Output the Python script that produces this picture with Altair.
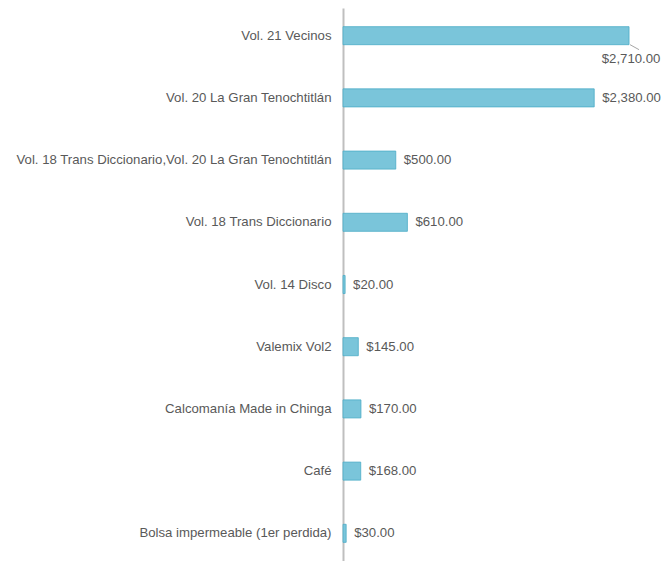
import altair as alt
import pandas as pd

categories = [
    "Vol. 21 Vecinos",
    "Vol. 20 La Gran Tenochtitlán",
    "Vol. 18 Trans Diccionario,Vol. 20 La Gran Tenochtitlán",
    "Vol. 18 Trans Diccionario",
    "Vol. 14 Disco",
    "Valemix Vol2",
    "Calcomanía Made in Chinga",
    "Café",
    "Bolsa impermeable (1er perdida)",
]
amounts = [2710, 2380, 500, 610, 20, 145, 170, 168, 30]
labels = ["$2,710.00", "$2,380.00", "$500.00", "$610.00", "$20.00",
          "$145.00", "$170.00", "$168.00", "$30.00"]
leader = [True, False, False, False, False, False, False, False, False]

df = pd.DataFrame({"cat": categories, "amt": amounts, "label": labels, "leader": leader})

FONT = "Liberation Sans"
FS = 13.2
TXT = "#595959"

y = alt.Y("cat:N", sort=categories, title=None,
          scale=alt.Scale(paddingInner=0.71, paddingOuter=0.3),
          axis=alt.Axis(labelFont=FONT, labelFontSize=FS, labelColor=TXT,
                        labelPadding=12, ticks=False, domainColor="#BFBFBF",
                        domainWidth=2, labelLimit=400))
x = alt.X("amt:Q", title=None, scale=alt.Scale(domain=[0, 2937], nice=False),
          axis=None)

base = alt.Chart(df)

bars = base.mark_bar(color="#7AC5DA", stroke="#4BACC6", strokeWidth=0.8,
                     cornerRadius=0).encode(x=x, y=y)

text_plain = base.transform_filter("!datum.leader").mark_text(
    align="left", baseline="middle", dx=8, font=FONT, fontSize=FS, color=TXT
).encode(x=x, y=y, text="label:N")

text_lead = base.transform_filter("datum.leader").mark_text(
    align="center", baseline="middle", dx=2, dy=23, font=FONT, fontSize=FS, color=TXT
).encode(x=x, y=y, text="label:N")

lead_line = base.transform_filter("datum.leader").mark_rule(
    color="#A6A6A6", strokeWidth=1,
    xOffset=1, x2Offset=10, yOffset=9, y2Offset=14
).encode(x=x, x2="amt:Q", y=y, y2="cat:N")

chart = alt.layer(bars, text_plain, text_lead, lead_line).properties(
    width=310, height=553,
    autosize=alt.AutoSizeParams(type="none"),
    padding={"left": 335, "top": 0, "right": 9, "bottom": 0},
).configure_view(stroke=None)

chart.save("out.html", embed_options={"renderer": "svg", "actions": False})
